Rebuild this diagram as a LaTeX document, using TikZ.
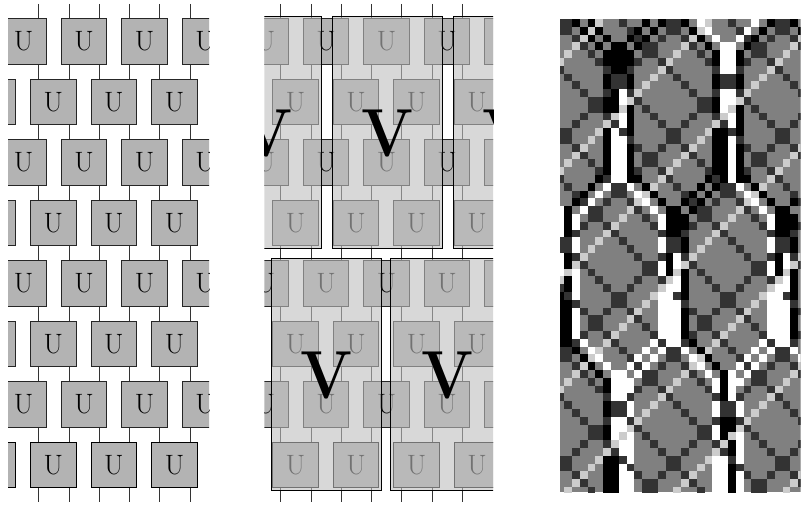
\documentclass[tikz,border=0pt]{standalone}
\usepackage{tikz}
\definecolor{boxg}{HTML}{B3B3B3}
\definecolor{veil}{HTML}{BEBEBE}
\definecolor{mG}{HTML}{808080}
\definecolor{mD}{HTML}{333333}
\definecolor{mL}{HTML}{CCCCCC}
\tikzset{
  ubox/.style={draw=black!85,line width=.8pt,fill=boxg,minimum size=45.5pt,inner sep=0pt,font=\fontsize{28}{28}\selectfont},
  ubottom/.style={ubox,line width=1.1pt,draw=black},
  wire/.style={draw=black!80,line width=.8pt},
  vrect/.style={draw=black,line width=.8pt,fill=veil,fill opacity=.6,draw opacity=1},
  vlabel/.style={inner sep=0pt,font=\fontsize{68}{68}\selectfont\bfseries,xscale=.9,transform shape}
}
\newcommand{\brickpanel}[2]{%
  % #1 x offset, #2 name prefix
  \foreach \wx in {38.7,68.95,99.2,129.45,159.7,189.95,220.2}{
    \draw[wire] ({#1+\wx},4) -- ({#1+\wx},502);
  }
  \foreach \ri in {0,...,7}{
    \pgfmathsetmacro\ry{41.45+60.5*\ri}
    \pgfmathtruncatemacro\odd{mod(\ri,2)}
    \pgfmathtruncatemacro\last{\ri==7?1:0}
    \foreach \ci in {-1,0,...,3}{
      \ifnum\odd=0
        \pgfmathsetmacro\bx{84.05+60.5*\ci}
      \else
        \pgfmathsetmacro\bx{53.45+60.5*\ci}
      \fi
      \ifnum\last=1
        \node[ubottom] (#2\ri c\ci) at ({#1+\bx},\ry) {U};
      \else
        \node[ubox] (#2\ri c\ci) at ({#1+\bx},\ry) {U};
      \fi
    }
  }
}
\newcommand{\mcell}[3]{\fill[#3] ({556.4+7.8*#1},{19+7.8*#2}) rectangle ++(7.85,7.85);}
\begin{document}
\begin{tikzpicture}[x=1pt,y=-1pt]
\useasboundingbox (0,0) rectangle (802,505);
% left panel
\begin{scope}
  \clip (8,0) rectangle (209,505);
  \foreach \wx in {38.7,68.95,99.2,129.45,159.7,189.95}{
    \draw[wire] (\wx,4) -- (\wx,502);
  }
  \foreach \ri in {0,...,7}{
    \pgfmathsetmacro\ry{41.45+60.5*\ri}
    \pgfmathtruncatemacro\odd{mod(\ri,2)}
    \pgfmathtruncatemacro\last{\ri==7?1:0}
    \foreach \ci in {-1,0,...,3}{
      \ifnum\odd=0
        \pgfmathsetmacro\bx{84.05+60.5*\ci}
      \else
        \pgfmathsetmacro\bx{53.45+60.5*\ci}
      \fi
      \ifnum\last=1
        \node[ubottom] (a\ri c\ci) at (\bx,\ry) {U};
      \else
        \node[ubox] (a\ri c\ci) at (\bx,\ry) {U};
      \fi
    }
  }
\end{scope}
% middle panel
\begin{scope}
  \clip (264.3,0) rectangle (493,505);
  \brickpanel{242}{b}
  \path[vrect] (211.3,16) rectangle (321.3,248.7);
  \path[vrect] (332.3,16) rectangle (442.3,248.7);
  \path[vrect] (453.3,16) rectangle (563.3,248.7);
  \path[vrect] (271,258) rectangle (381.7,490.3);
  \path[vrect] (390.7,258) rectangle (501,490.3);
  \node[vlabel] (v1) at (266.3,133.5) {V};
  \node[vlabel] (v2) at (387.5,133.5) {V};
  \node[vlabel] (v3) at (508.5,133.5) {V};
  \node[vlabel] (v4) at (326.3,375) {V};
  \node[vlabel] (v5) at (447.3,375) {V};
\end{scope}
% right panel
\begin{scope}
  \clip (560,19) rectangle (800.5,492);
  \fill[mG] (560,19) rectangle (801,492);
  \foreach \mr in {0,...,60}{
    \foreach \mc in {0,...,31}{
      \pgfmathtruncatemacro\sumv{mod(\mc+\mr,14)}
      \pgfmathtruncatemacro\difv{mod(\mc-\mr+140,14)}
      \ifnum\sumv=5 \mcell{\mc}{\mr}{mL}\fi
      \ifnum\sumv=1 \mcell{\mc}{\mr}{mD}\fi
      \ifnum\difv=0 \mcell{\mc}{\mr}{mD}\fi
      \ifnum\difv=8 \mcell{\mc}{\mr}{mD}\fi
    }
  }
  \foreach \mr/\ks/\ws in {
    0/{2,4,11,13,16,27,30}/{18,25},
    1/{3,5,10,12,17,26,31}/{19,24},
    2/{4,6,9,11,18,25}/{20,23},
    3/{5,7,8,10,19,24}/{21,22},
    4/{6,7,8,9,20,23}/{21,22},
    5/{6,7,8,9,20,23}/{21,22},
    6/{7,8}/{21,22},
    7/{6,9,20,23}/{99},
    8/{6,9,20,23}/{99},
    9/{7}/{8,21,22},
    10/{6,7,20}/{8,21,22},
    11/{6,7,9,20,23}/{21},
    12/{9,23}/{8,22},
    13/{9,23}/{8,22},
    14/{6,9,20,21,23}/{7},
    15/{6,20,21}/{7,8,22},
    16/{6,9,20,21,23}/{7,8,22},
    17/{6,9,20,21,23}/{7,8,22},
    18/{6,9,20,21,23}/{7,8,22},
    19/{6,9,20,21,23}/{7,8,22},
    20/{5,9,10,19,21,23,24}/{7,8,22},
    21/{4,11,18,20,25}/{6,9,23},
    22/{3,12,17,19,26}/{5,10,24},
    23/{2,13,16,18,27,30}/{4,11,25},
    24/{1,14,15,17,28,29}/{0,3,12,26},
    25/{1,14,15,16,28,29,30}/{0,2,13,27},
    26/{1,14,15,16,28,29,30}/{0,2,13,27},
    27/{1,14,15,28,29}/{0},
    28/{16,30}/{2,13,27},
    29/{16,30}/{2,13,27},
    30/{1,14,28}/{0,15,29},
    31/{1,14,28}/{0,13,15,27,29},
    32/{14,16,28,30}/{0,2,13,27},
    33/{1,16,30}/{2,15,29},
    34/{1,16,30}/{2,14,15,28,29},
    35/{0,16,30}/{2,13,14,27,28},
    36/{0,1}/{13,14,15,27,28,29},
    37/{0,1,16,30}/{2,13,14,15,27,28,29},
    38/{0,1,16,30}/{2,13,14,15,27,28,29},
    39/{0,1,16,30}/{2,13,14,15,27,28,29},
    40/{0,1,16,30}/{2,13,14,15,27,28,29},
    41/{0,1,17}/{3,12,14,15,26,28,29},
    42/{2,18}/{4,11,13,16,25,27,30},
    43/{3,19}/{5,10,12,17,24,26,31},
    44/{4,20}/{6,9,11,18,23,25},
    45/{5,21}/{7,8,10,19,22,24},
    46/{6,21}/{7,8,9,20,22,23},
    47/{6,21}/{7,8,9,20,22},
    48/{21}/{7,8,22},
    49/{6}/{9,20,23},
    50/{6}/{9,20,23},
    51/{21,22}/{7,8},
    52/{6,21,22}/{7,8,20},
    53/{6,21}/{7,9,20,23},
    54/{22}/{8,9,23},
    55/{22}/{8,9,23},
    56/{6,7}/{9,20,21,23},
    57/{6,7,22}/{8,20,21},
    58/{6,7,22}/{8,9,20,21,23},
    59/{6,7,22}/{8,9,20,21,23},
    60/{6,7,22}/{8,9,20,21,23}}{
    \foreach \mc in \ks { \mcell{\mc}{\mr}{black} }
    \foreach \mc in \ws { \mcell{\mc}{\mr}{white} }
  }
\end{scope}
\end{tikzpicture}
\end{document}
